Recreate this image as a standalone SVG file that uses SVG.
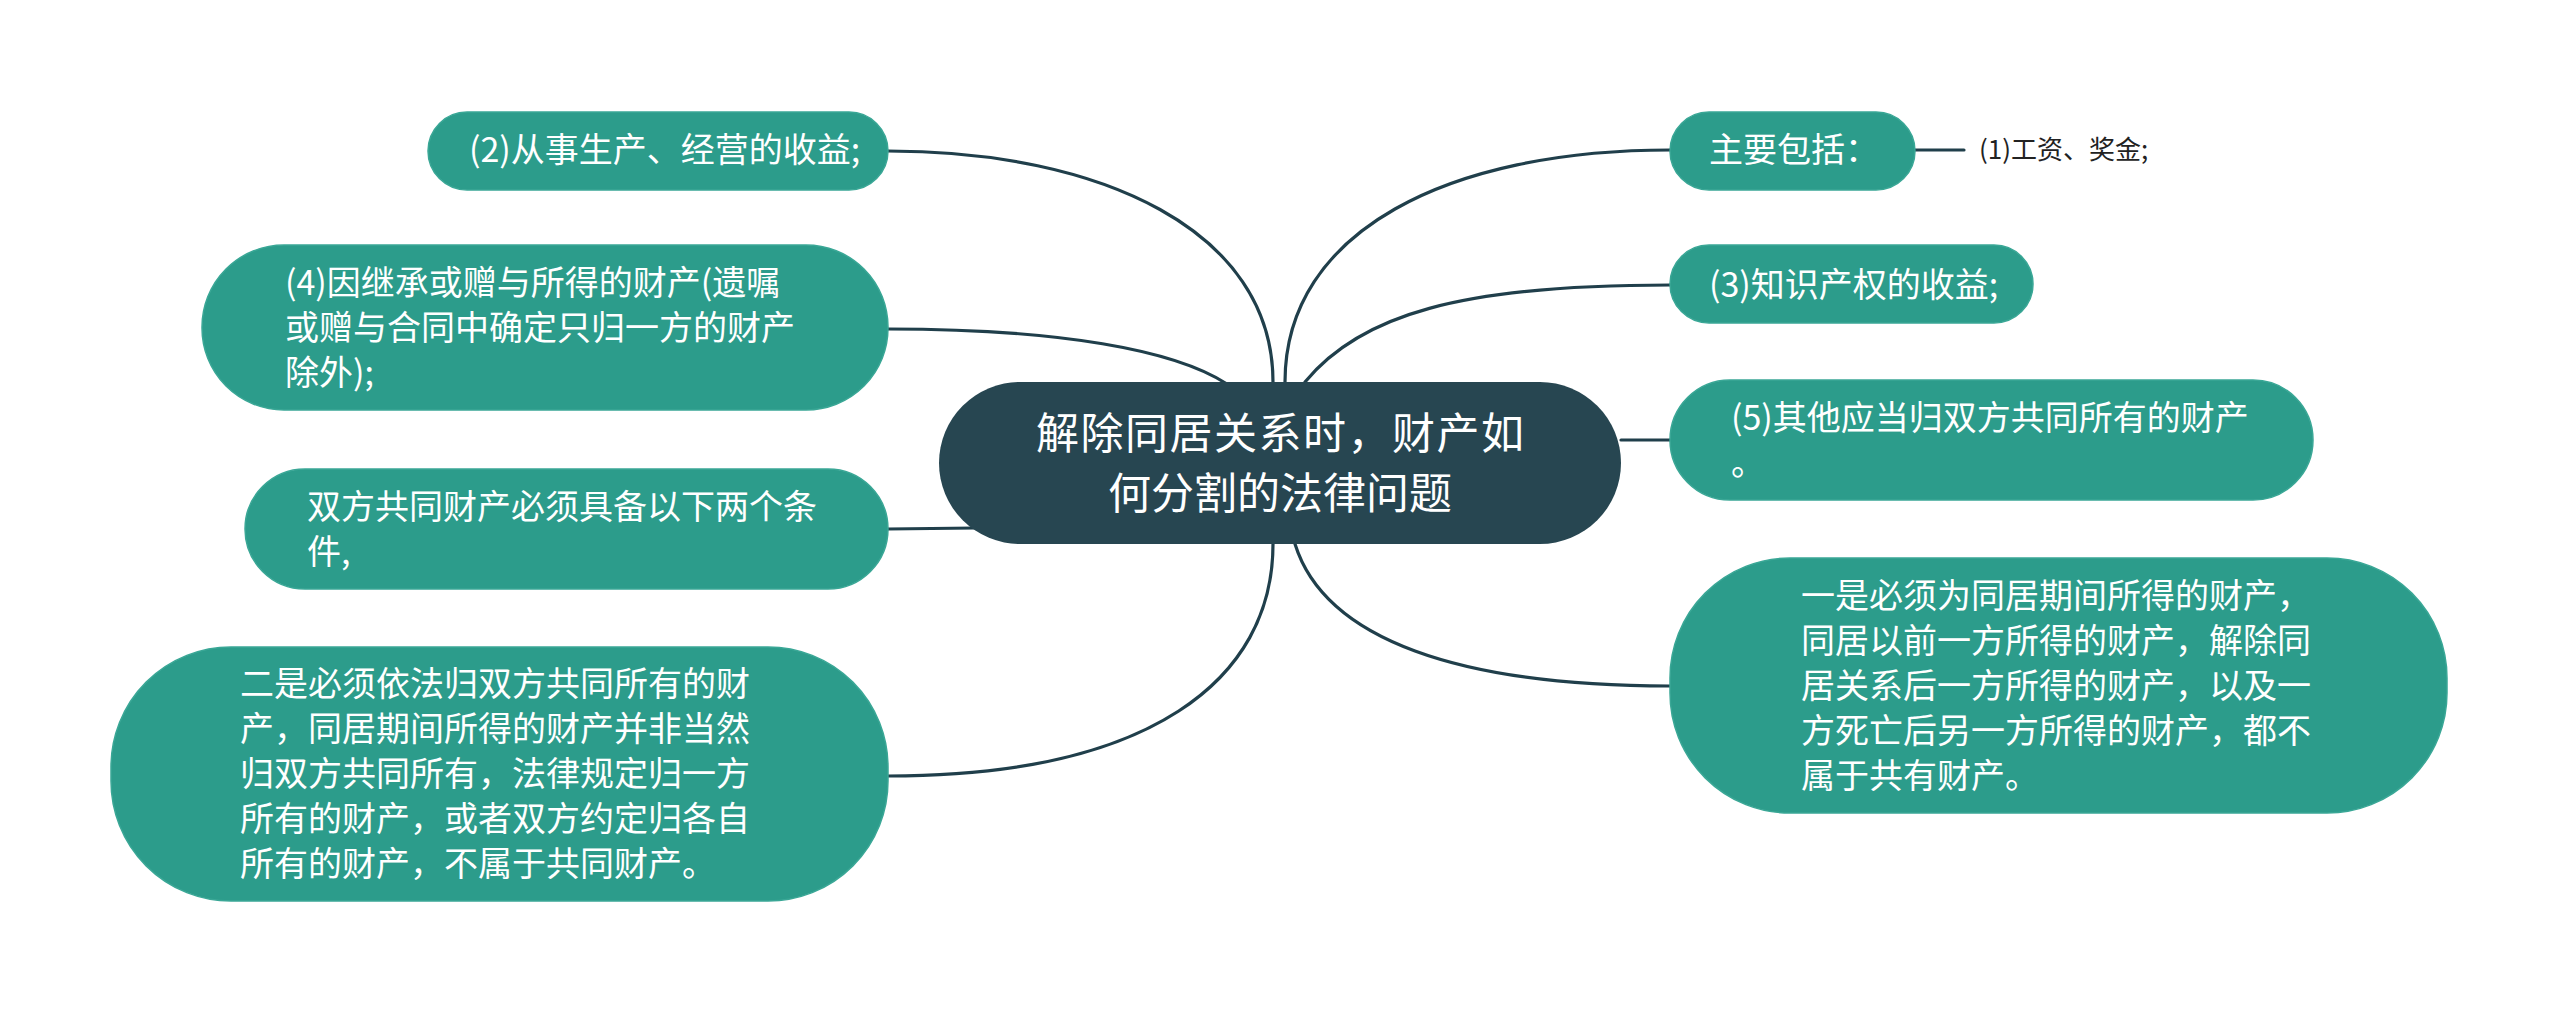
<svg xmlns="http://www.w3.org/2000/svg" width="2560" height="1016" viewBox="0 0 2560 1016">
<style>
.bg{fill:#ffffff}
.node{fill:#2c9c8b;stroke:#3aa796;stroke-width:1.5}
.root{fill:#274651}
.t{font-family:"Noto Sans CJK SC","Noto Sans",sans-serif;font-size:34px;fill:#ffffff}
.rt{font-family:"Noto Sans CJK SC","Noto Sans",sans-serif;font-size:43px;fill:#ffffff;text-anchor:middle}
.plain{font-family:"Noto Sans CJK SC","Noto Sans",sans-serif;font-size:26px;fill:#222222}
.edge{fill:none;stroke:#203f4b;stroke-width:3.2;stroke-linecap:round}
</style>
<rect class="bg" x="0" y="0" width="2560" height="1016"/>
<g id="connectors">
<path class="edge" d="M888,151 C1100,151 1273,230 1273,382"/>
<path class="edge" d="M888,329 C1060,329 1175,350 1227,384"/>
<path class="edge" d="M888,529 L975,528"/>
<path class="edge" d="M888,776 C1150,776 1273,680 1273,544"/>
<path class="edge" d="M1285,382 C1285,230 1450,150 1670,150"/>
<path class="edge" d="M1305,382 C1360,315 1460,285 1670,285"/>
<path class="edge" d="M1621,440 L1670,440"/>
<path class="edge" d="M1295,544 C1325,640 1460,686 1670,686"/>
<path class="edge" d="M1915,150 L1964,150"/>
</g>
<g id="root">
<rect class="root" x="939" y="382" width="682" height="162" rx="81"/>
<text class="rt" x="1280" y="449" textLength="488" lengthAdjust="spacing">解除同居关系时，财产如</text>
<text class="rt" x="1280" y="509">何分割的法律问题</text>
</g>
<g id="n2">
<rect class="node" x="428" y="112" width="460" height="78" rx="39"/>
<text class="t" x="469" y="162">(2)从事生产、经营的收益;</text>
</g>
<g id="n4">
<rect class="node" x="202" y="245" width="686" height="165" rx="82"/>
<text class="t" x="285" y="295">(4)因继承或赠与所得的财产(遗嘱</text>
<text class="t" x="285" y="340">或赠与合同中确定只归一方的财产</text>
<text class="t" x="285" y="385">除外);</text>
</g>
<g id="nboth">
<rect class="node" x="245" y="469" width="643" height="120" rx="60"/>
<text class="t" x="307" y="519">双方共同财产必须具备以下两个条</text>
<text class="t" x="307" y="564">件,</text>
</g>
<g id="ntwo">
<rect class="node" x="111" y="647" width="777" height="254" rx="120"/>
<text class="t" x="240" y="696">二是必须依法归双方共同所有的财</text>
<text class="t" x="240" y="741">产，同居期间所得的财产并非当然</text>
<text class="t" x="240" y="786">归双方共同所有，法律规定归一方</text>
<text class="t" x="240" y="831">所有的财产，或者双方约定归各自</text>
<text class="t" x="240" y="876">所有的财产，不属于共同财产。</text>
</g>
<g id="nmain">
<rect class="node" x="1670" y="112" width="245" height="78" rx="39"/>
<text class="t" x="1709" y="162">主要包括：</text>
</g>
<g id="n1">
<text class="plain" x="1979" y="159">(1)工资、奖金;</text>
</g>
<g id="n3">
<rect class="node" x="1670" y="245" width="363" height="78" rx="39"/>
<text class="t" x="1709" y="297">(3)知识产权的收益;</text>
</g>
<g id="n5">
<rect class="node" x="1670" y="380" width="643" height="120" rx="60"/>
<text class="t" x="1731" y="430">(5)其他应当归双方共同所有的财产</text>
<text class="t" x="1731" y="475">。</text>
</g>
<g id="none">
<rect class="node" x="1670" y="558" width="777" height="255" rx="120"/>
<text class="t" x="1801" y="608">一是必须为同居期间所得的财产，</text>
<text class="t" x="1801" y="653">同居以前一方所得的财产，解除同</text>
<text class="t" x="1801" y="698">居关系后一方所得的财产，以及一</text>
<text class="t" x="1801" y="743">方死亡后另一方所得的财产，都不</text>
<text class="t" x="1801" y="788">属于共有财产。</text>
</g>
</svg>
